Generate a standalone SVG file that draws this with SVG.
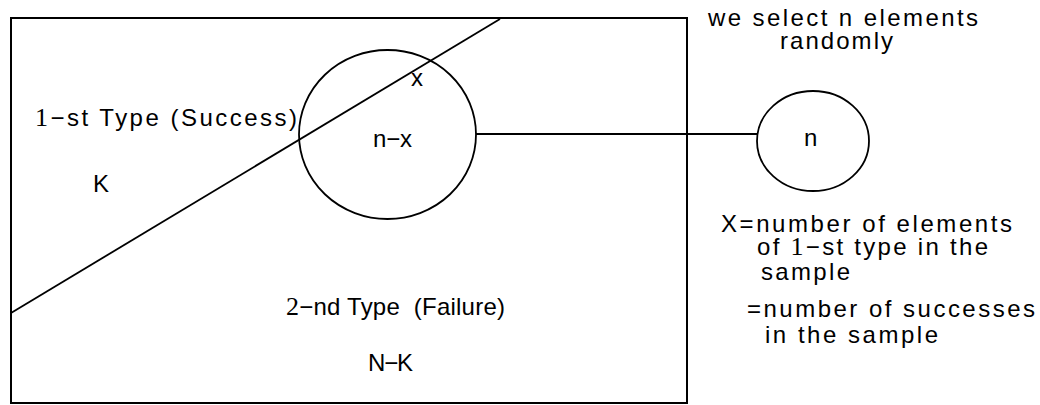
<svg xmlns="http://www.w3.org/2000/svg" width="1040" height="405" viewBox="0 0 1040 405">
<style>
.shape{fill:none;stroke:#000;stroke-width:2}
.thin{fill:none;stroke:#000;stroke-width:1.8}
text{font-family:"Liberation Sans",Arial,sans-serif;font-size:24px;fill:#000}
.serif{font-family:"Liberation Serif","Times New Roman",serif;font-size:26px}
</style>
<rect width="1040" height="405" fill="#fff"/>
<g id="population">
<rect class="shape" x="11" y="18" width="676" height="385"/>
<line class="thin" x1="11" y1="313" x2="500" y2="19"/>
<text x="35" y="126" font-size="25" textLength="262" lengthAdjust="spacing"><tspan class="serif">1</tspan>−st Type (Success)</text>
<text x="93" y="192" font-size="25">K</text>
<text x="286" y="315" font-size="25" textLength="219" lengthAdjust="spacing" xml:space="preserve"><tspan class="serif">2</tspan>−nd Type  (Failure)</text>
<text x="368" y="371" font-size="25" textLength="45" lengthAdjust="spacing">N−K</text>
</g>
<g id="sample-in-population">
<ellipse class="thin" cx="387.5" cy="134.5" rx="88.5" ry="84.5"/>
<text x="411" y="86" font-size="25">x</text>
<text x="373" y="147" font-size="25" textLength="39" lengthAdjust="spacing">n−x</text>
</g>
<g id="sample">
<ellipse class="thin" cx="813" cy="141" rx="56" ry="50"/>
<text x="804" y="146" font-size="25">n</text>
</g>
<g id="caption-top">
<text x="708" y="26" textLength="270" lengthAdjust="spacing">we select n elements</text>
<text x="780" y="49" textLength="113" lengthAdjust="spacing">randomly</text>
</g>
<g id="caption-bottom">
<text x="721" y="232" textLength="291" lengthAdjust="spacing">X=number of elements</text>
<text x="757" y="255" textLength="231" lengthAdjust="spacing">of <tspan class="serif">1</tspan>−st type in the</text>
<text x="761" y="280" textLength="89" lengthAdjust="spacing">sample</text>
<text x="747" y="317" textLength="288" lengthAdjust="spacing">=number of successes</text>
<text x="765" y="343" textLength="173" lengthAdjust="spacing">in the sample</text>
</g>
<g id="connectors">
<line class="thin" x1="476" y1="134" x2="757" y2="134"/>
</g>
</svg>
